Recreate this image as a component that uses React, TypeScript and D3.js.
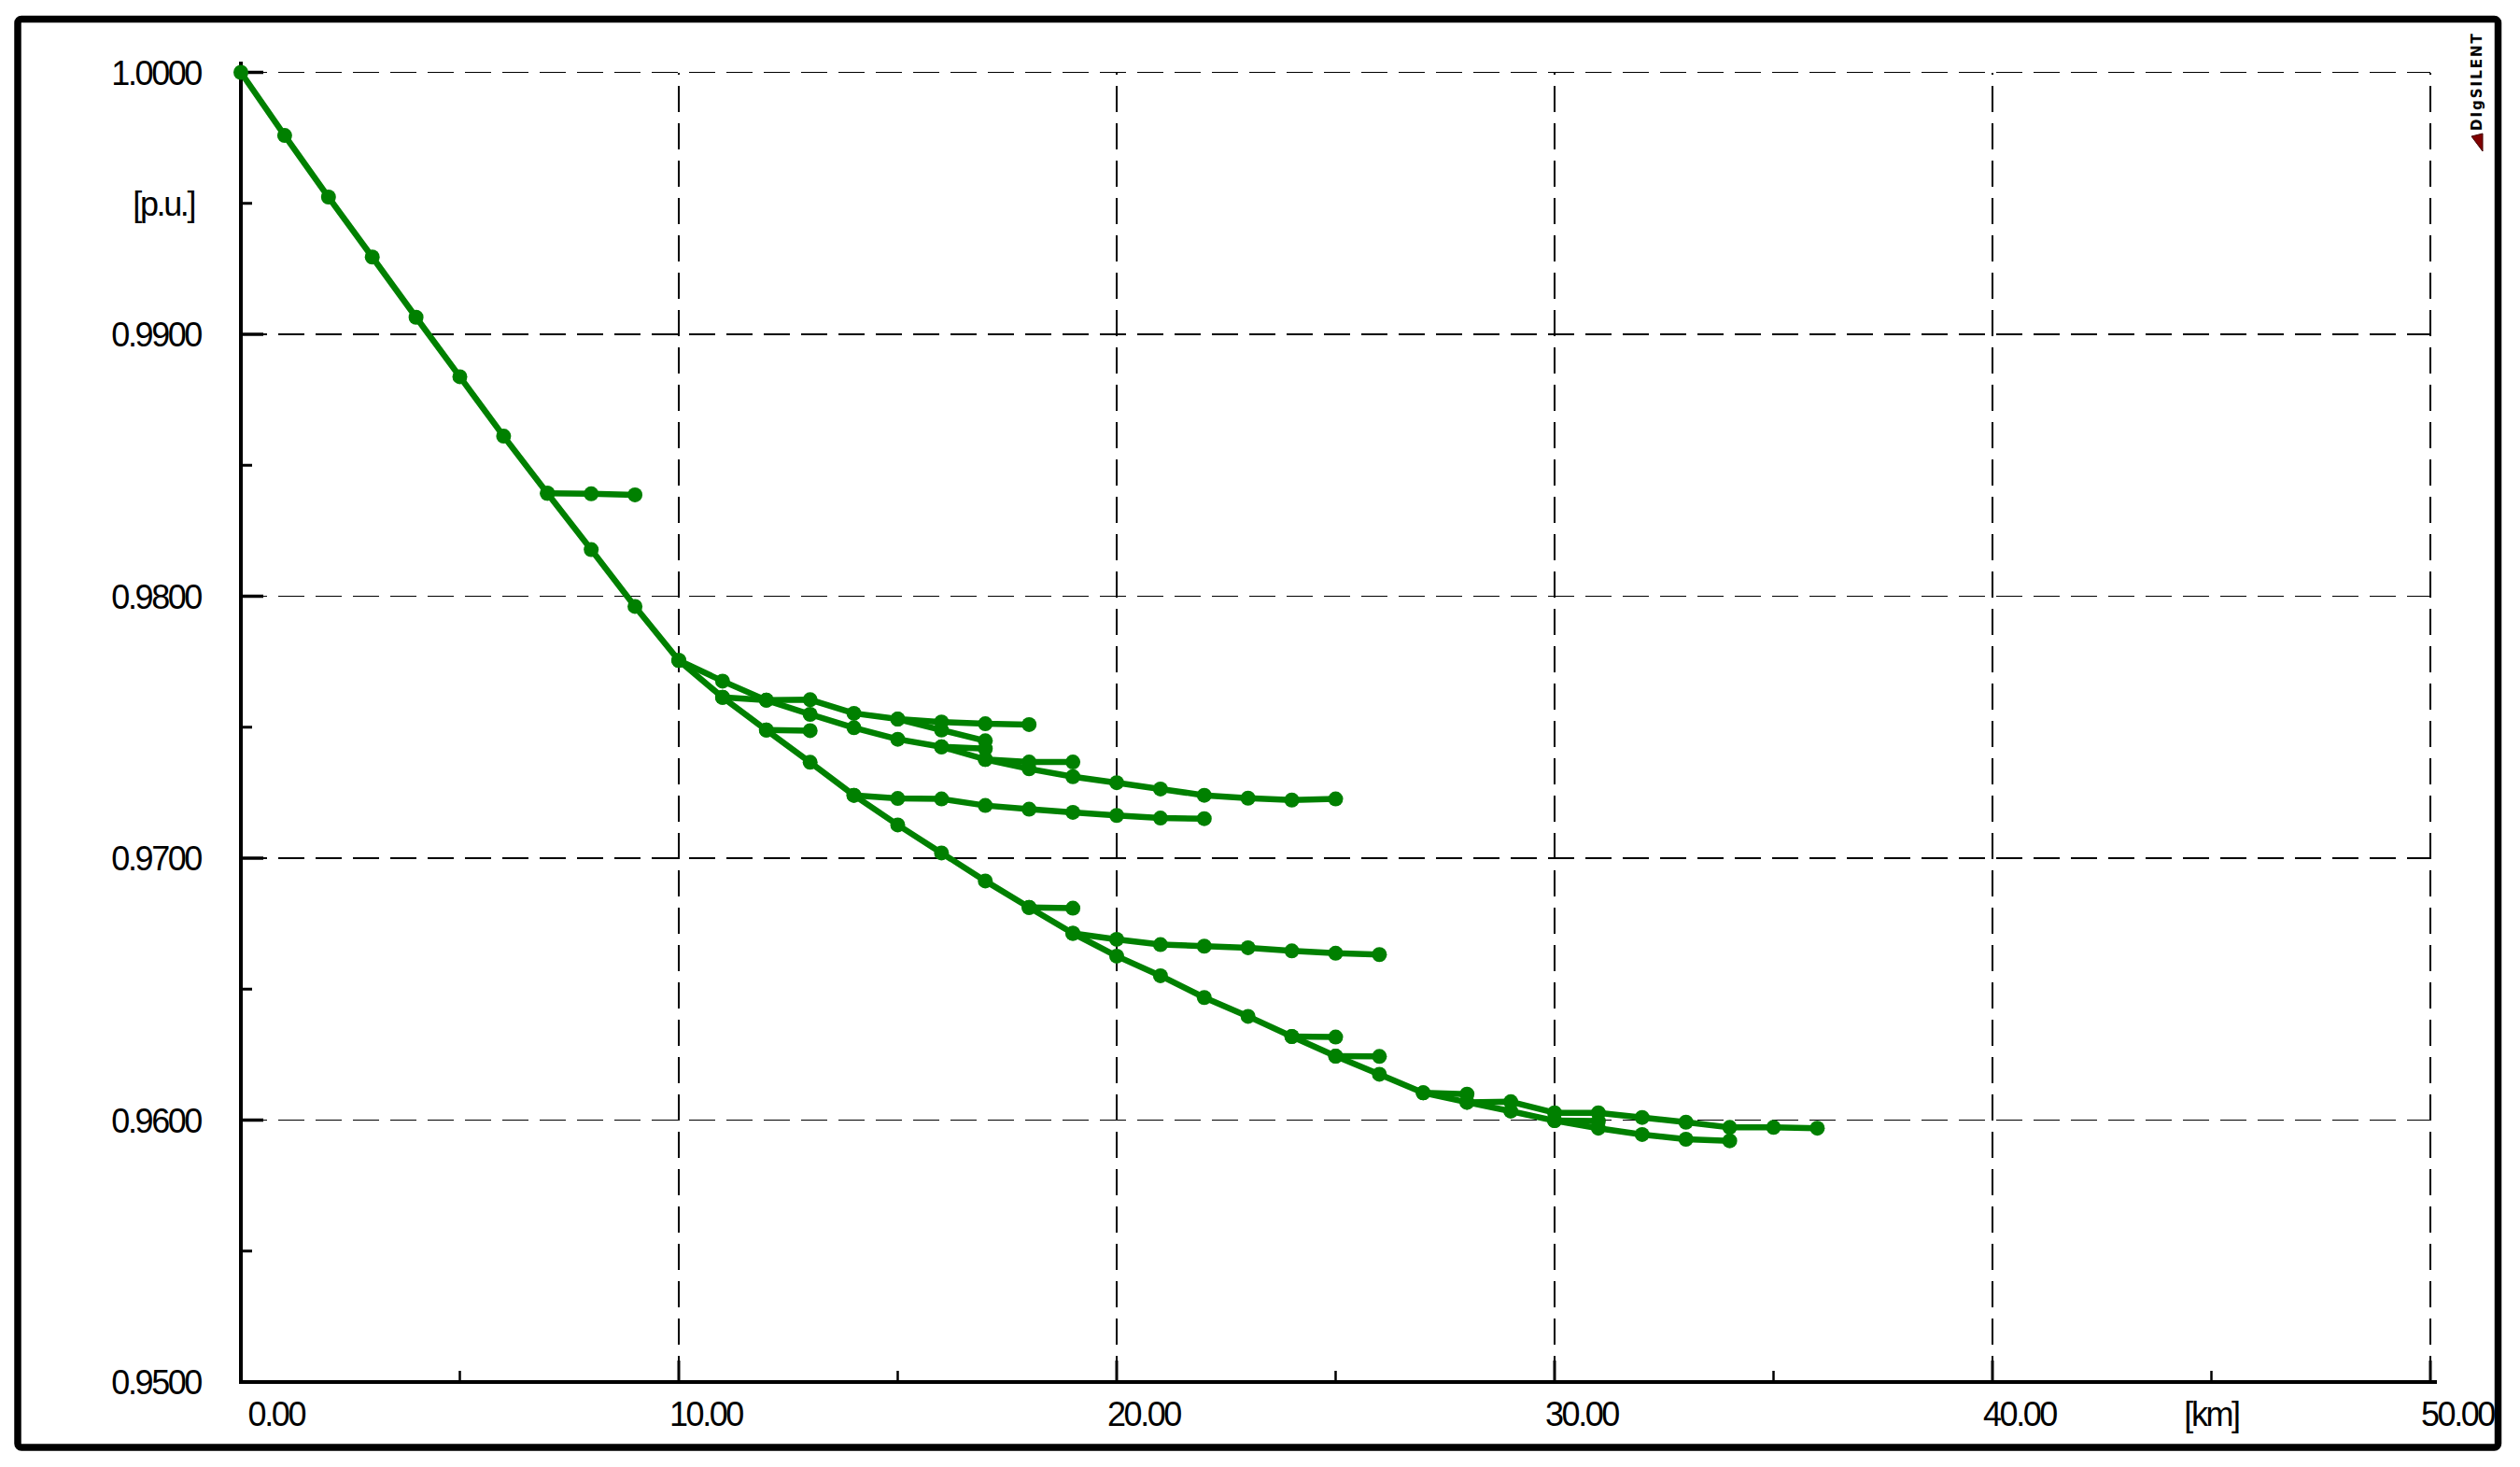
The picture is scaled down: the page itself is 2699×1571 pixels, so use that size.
import React from 'react';
import * as d3 from 'd3';

// ---- axis data ----
const xTickValues = [0, 10, 20, 30, 40, 50];
const xTickLabels = ['0.00', '10.00', '20.00', '30.00', '40.00', '50.00'];
const xMinorTicks = [5, 15, 25, 35, 45];
const yTickValues = [0.95, 0.96, 0.97, 0.98, 0.99, 1.0];
const yTickLabels = ['0.9500', '0.9600', '0.9700', '0.9800', '0.9900', '1.0000'];
const yMinorTicks = [0.955, 0.965, 0.975, 0.985, 0.995];
const xUnit = '[km]';
const yUnit = '[p.u.]';

// ---- voltage profile series (distance km, voltage p.u.) ----
const mainKm = [0, 1, 2, 3, 4, 5, 6, 7, 8, 9, 10, 11, 12, 13, 14, 15, 16, 17, 18, 19, 20, 21, 22, 23, 24, 25, 26, 27, 28, 29, 30, 31, 32, 33, 34];
const mainPu = [1.0, 0.99759, 0.99524, 0.99295, 0.99065, 0.98838, 0.98611, 0.98393, 0.98178, 0.97961, 0.97755, 0.97614, 0.97489, 0.97366, 0.9724, 0.97127, 0.9702, 0.96913, 0.96812, 0.96713, 0.96626, 0.96551, 0.96468, 0.96396, 0.96319, 0.96244, 0.96175, 0.96104, 0.96068, 0.96034, 0.95998, 0.95969, 0.95945, 0.95927, 0.95921];

const branch7Km = [7, 8, 9];
const branch7Pu = [0.98393, 0.98391, 0.98387];

const upperAKm = [10, 11, 12, 13, 14, 15, 16, 17, 18, 19];
const upperAPu = [0.97755, 0.97676, 0.97603, 0.97549, 0.97498, 0.97454, 0.97425, 0.97377, 0.97367, 0.97367];

const upperBKm = [17, 18, 19, 20, 21, 22, 23, 24, 25];
const upperBPu = [0.97377, 0.97341, 0.97311, 0.97288, 0.97264, 0.9724, 0.97229, 0.97222, 0.97226];

const upperCKm = [11, 12, 13, 14, 15, 16, 17, 18];
const upperCPu = [0.97614, 0.97603, 0.97605, 0.97553, 0.97531, 0.9752, 0.97513, 0.9751];

const upperDKm = [15, 16, 17];
const upperDPu = [0.97531, 0.97489, 0.97448];

const upperEKm = [16, 17];
const upperEPu = [0.97425, 0.97418];

const branch12Km = [12, 13];
const branch12Pu = [0.97489, 0.97487];

const branch14Km = [14, 15, 16, 17, 18, 19, 20, 21, 22];
const branch14Pu = [0.9724, 0.97228, 0.97226, 0.97201, 0.97187, 0.97175, 0.97163, 0.97153, 0.97151];

const branch18Km = [18, 19];
const branch18Pu = [0.96812, 0.96809];

const branch19Km = [19, 20, 21, 22, 23, 24, 25, 26];
const branch19Pu = [0.96713, 0.9669, 0.9667, 0.96664, 0.96658, 0.96646, 0.96637, 0.96632];

const branch24Km = [24, 25];
const branch24Pu = [0.96319, 0.96317];

const branch25Km = [25, 26];
const branch25Pu = [0.96244, 0.96243];

const branch27Km = [27, 28];
const branch27Pu = [0.96104, 0.96099];

const branch28Km = [28, 29, 30, 31, 32, 33, 34, 35, 36];
const branch28Pu = [0.96068, 0.9607, 0.96028, 0.96028, 0.9601, 0.95992, 0.95972, 0.95972, 0.95969];

const branch30Km = [30, 31];
const branch30Pu = [0.95998, 0.95996];

const seriesList = [
  [mainKm, mainPu],
  [branch7Km, branch7Pu],
  [upperAKm, upperAPu],
  [upperBKm, upperBPu],
  [upperCKm, upperCPu],
  [upperDKm, upperDPu],
  [upperEKm, upperEPu],
  [branch12Km, branch12Pu],
  [branch14Km, branch14Pu],
  [branch18Km, branch18Pu],
  [branch19Km, branch19Pu],
  [branch24Km, branch24Pu],
  [branch25Km, branch25Pu],
  [branch27Km, branch27Pu],
  [branch28Km, branch28Pu],
  [branch30Km, branch30Pu],
];

const W = 2699;
const H = 1571;
const GREEN = '#008000';
const FONT = "'Liberation Sans', Arial, sans-serif";

export default function App() {
  const x = d3.scaleLinear().domain([0, 50]).range([258, 2603]);
  const y = d3.scaleLinear().domain([0.95, 1.0]).range([1480, 77.5]);
  const line = d3
    .line<[number, number]>()
    .x((d) => x(d[0]))
    .y((d) => y(d[1]));

  const series = seriesList.map(([km, pu]) => km.map((k, i) => [k, pu[i]] as [number, number]));

  return (
    <svg
      width={W}
      height={H}
      style={{ position: 'fixed', left: 0, top: 0, background: '#fff' }}
      xmlns="http://www.w3.org/2000/svg"
    >
      <rect x={0} y={0} width={W} height={H} fill="#fff" />
      {/* frame */}
      <rect x={19} y={20.5} width={2656.5} height={1529.5} rx={4} fill="none" stroke="#000" strokeWidth={7.5} />

      {/* grid */}
      <g shapeRendering="crispEdges">
        {yTickValues.filter((v) => v > 0.95).map((v) => (
          <line key={'gy' + v} x1={x(0)} x2={x(50)} y1={y(v)} y2={y(v)} stroke="#000" strokeWidth={1.6} strokeDasharray="28,12" />
        ))}
        {xTickValues.filter((v) => v > 0).map((v) => (
          <line key={'gx' + v} x1={x(v)} x2={x(v)} y1={y(0.95)} y2={y(1.0)} stroke="#000" strokeWidth={1.6} strokeDasharray="28,12" />
        ))}
      </g>

      {/* axes */}
      <line x1={x(0)} x2={x(0)} y1={y(0.95) + 2} y2={66} stroke="#000" strokeWidth={4} />
      <line x1={x(0) - 2} x2={2610} y1={y(0.95)} y2={y(0.95)} stroke="#000" strokeWidth={4} />
      {yTickValues.map((v) => (
        <line key={'ty' + v} x1={x(0)} x2={x(0) + 24} y1={y(v)} y2={y(v)} stroke="#000" strokeWidth={3.5} />
      ))}
      {yMinorTicks.map((v) => (
        <line key={'tym' + v} x1={x(0)} x2={x(0) + 12} y1={y(v)} y2={y(v)} stroke="#000" strokeWidth={3} />
      ))}
      {xTickValues.map((v) => (
        <line key={'tx' + v} x1={x(v)} x2={x(v)} y1={y(0.95)} y2={y(0.95) - 23} stroke="#000" strokeWidth={3} />
      ))}
      {xMinorTicks.map((v) => (
        <line key={'txm' + v} x1={x(v)} x2={x(v)} y1={y(0.95)} y2={y(0.95) - 12} stroke="#000" strokeWidth={2.5} />
      ))}

      {/* tick labels */}
      {yTickValues.map((v, i) => (
        <text key={'ly' + v} x={215} y={y(v) + 13} textAnchor="end" fontFamily={FONT} fontSize={36} letterSpacing={-2.4} fill="#000">
          {yTickLabels[i]}
        </text>
      ))}
      <text x={208} y={231} textAnchor="end" fontFamily={FONT} fontSize={36} letterSpacing={-2.4} fill="#000">
        {yUnit}
      </text>
      {xTickValues.map((v, i) => (
        <text key={'lx' + v} x={x(v) + 68} y={1527} textAnchor="end" fontFamily={FONT} fontSize={36} letterSpacing={-2.4} fill="#000">
          {xTickLabels[i]}
        </text>
      ))}
      <text x={x(45)} y={1527} textAnchor="middle" fontFamily={FONT} fontSize={36} letterSpacing={-2.4} fill="#000">
        {xUnit}
      </text>

      {/* logo */}
      <text
        transform="translate(2658,140) rotate(-90)"
        fontFamily="'DejaVu Sans', Verdana, sans-serif"
        fontWeight="bold"
        fontSize={15}
        letterSpacing={2}
        fill="#000"
      >
        DIgSILENT
      </text>
      <polygon points="2647,146 2659,143 2659,162" fill="#800000" stroke="#400000" strokeWidth={1} />

      {/* data */}
      <g>
        {series.map((pts, i) => (
          <path key={'s' + i} d={line(pts) || ''} fill="none" stroke={GREEN} strokeWidth={6.5} strokeLinejoin="round" strokeLinecap="round" />
        ))}
        {series.map((pts, i) =>
          pts.map((p, j) => <circle key={'m' + i + '-' + j} cx={x(p[0])} cy={y(p[1])} r={8} fill={GREEN} />)
        )}
      </g>
    </svg>
  );
}
